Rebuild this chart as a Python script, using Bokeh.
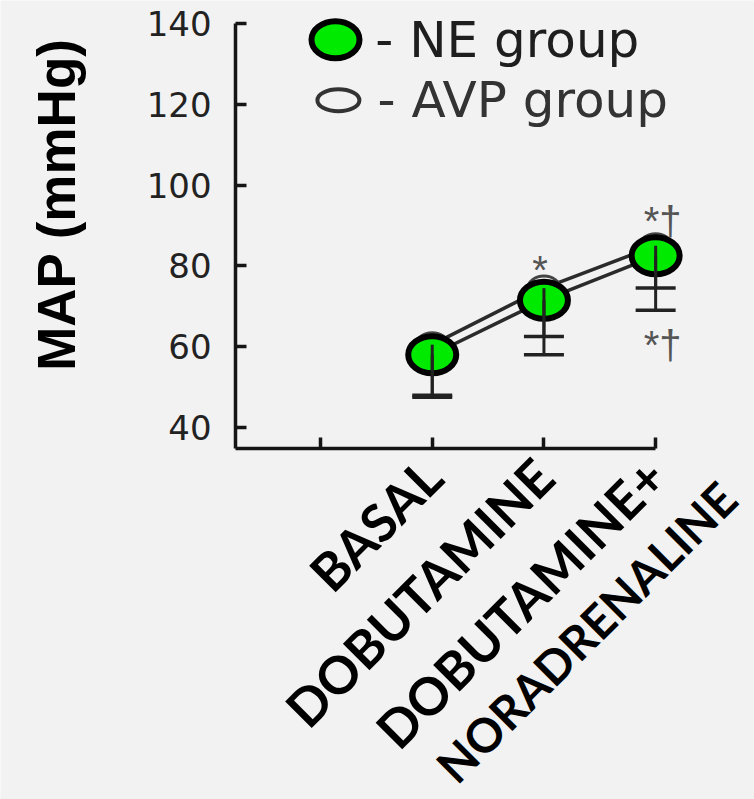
import math

from bokeh.core.properties import value
from bokeh.embed import file_html
from bokeh.models import ColumnDataSource, FixedTicker, Range1d, TeeHead, Whisker
from bokeh.plotting import figure
from bokeh.resources import INLINE

# Study phases on the x axis (position 0 is an empty slot)
phase_pos = [1, 2, 3]
phase_labels = ["BASAL", "DOBUTAMINE", "DOBUTAMINE+"]
phase_label_line2 = "NORADRENALINE"

# Mean arterial pressure (mmHg), mean and lower SD limit per phase
ne_map = [58.0, 71.5, 82.5]
ne_lower = [47.5, 58.0, 69.0]
avp_map = [60.5, 74.5, 85.0]
avp_lower = [48.0, 62.5, 74.5]

y_ticks = [40, 60, 80, 100, 120, 140]
y_title = "MAP (mmHg)"

# Significance marks (* vs basal, † vs dobutamine)
sig_x = [2, 3, 3]
sig_y = [78.9, 91.0, 60.3]
sig_text = ["*", "*\u2020", "*\u2020"]
sig_dx = [-4, 7, 7]

BG = "#f2f2f2"
INK = "#151515"
GREEN = "#00ea00"

# the frame spans the whole canvas; both axes are pinned inside it
X0, X1 = -2.865, 3.885
Y0, Y1 = -52.1, 145.7
AX_X, AX_Y = -0.761, 34.8

p = figure(
    width=754, height=799,
    frame_width=754, frame_height=799,
    x_range=Range1d(X0, X1), y_range=Range1d(Y0, Y1),
    output_backend="svg", toolbar_location=None, min_border=0,
    background_fill_color=BG, border_fill_color=BG, outline_line_color=None,
)
p.grid.visible = False

# x axis: rotated bold phase names
xa = p.xaxis[0]
xa.fixed_location = AX_Y
xa.ticker = FixedTicker(ticks=[0] + phase_pos)
xa.major_label_overrides = {0: ""} | {k: v for k, v in zip(phase_pos, phase_labels)}
xa.major_label_orientation = math.pi / 4
xa.major_label_text_font = "Lato"
xa.major_label_text_font_style = "bold"
xa.major_label_text_font_size = "52px"
xa.major_label_text_color = "black"
xa.major_label_standoff = 19
xa.bounds = (AX_X, 3)
xa.minor_tick_line_color = None

# second line of the last phase name
p.text([phase_pos[-1]], [AX_Y], text=[phase_label_line2], angle=math.pi / 4,
       x_offset=-211, y_offset=325,
       text_font=value("Lato"), text_font_style="bold", text_font_size="47px",
       text_color="black", text_align="left", text_baseline="alphabetic")

ya = p.yaxis[0]
ya.fixed_location = AX_X
ya.ticker = FixedTicker(ticks=y_ticks)
ya.bounds = (AX_Y, 140)
ya.major_label_text_font = "DejaVu Sans"
ya.major_label_text_font_size = "34px"
ya.major_label_text_color = "#222222"
ya.major_label_standoff = 24
ya.minor_tick_line_color = None

# y title
p.text([X0], [95.2], text=[y_title], angle=math.pi / 2, x_offset=56,
       text_font=value("Liberation Sans"), text_font_style="bold",
       text_font_size="53px", text_color="black",
       text_align="center", text_baseline="middle")

for ax in (xa, ya):
    ax.axis_line_width = 3.5
    ax.axis_line_color = INK
    ax.major_tick_line_width = 3.5
    ax.major_tick_line_color = INK
    ax.major_tick_in = 11
    ax.major_tick_out = 0

ne = ColumnDataSource(dict(x=phase_pos, y=ne_map, lower=ne_lower))
avp = ColumnDataSource(dict(x=phase_pos, y=avp_map, lower=avp_lower))

# lower error bars
for src in (avp, ne):
    p.add_layout(Whisker(
        source=src, base="x", upper="y", lower="lower",
        upper_head=None,
        lower_head=TeeHead(size=40, line_width=3.5, line_color="#222222"),
        line_width=3, line_color="#222222", level="glyph",
    ))

# connecting lines
p.line("x", "y", source=avp, line_width=3.5, line_color="#2b2b2b")
p.line("x", "y", source=ne, line_width=3.5, line_color="#2b2b2b")

# AVP group: open markers
p.ellipse("x", "y", source=avp, width=32, height=24,
          width_units="screen", height_units="screen",
          fill_color=BG, line_color="#444444", line_width=3)
# NE group: filled green markers
p.ellipse("x", "y", source=ne, width=48, height=37,
          width_units="screen", height_units="screen",
          fill_color=GREEN, line_color="black", line_width=6)

# significance marks
p.text(sig_x, sig_y, text=sig_text, x_offset=sig_dx,
       text_font=value("Liberation Sans"), text_font_size="40px",
       text_color="#555555", text_align="center", text_baseline="middle")

# key
p.ellipse([0.134], [136.0], width=48, height=37,
          width_units="screen", height_units="screen",
          fill_color=GREEN, line_color="black", line_width=6)
p.ellipse([0.16], [121.0], width=42, height=22,
          width_units="screen", height_units="screen",
          fill_color=None, line_color="#333333", line_width=4)
p.text([0.49, 0.51], [135.8, 121.0], text=["- NE group", "- AVP group"],
       text_font=value("DejaVu Sans"), text_font_size="50px",
       text_color=["#1e1e1e", "#333333"], text_align="left", text_baseline="middle")

open("out.html", "w").write(file_html(p, INLINE))
